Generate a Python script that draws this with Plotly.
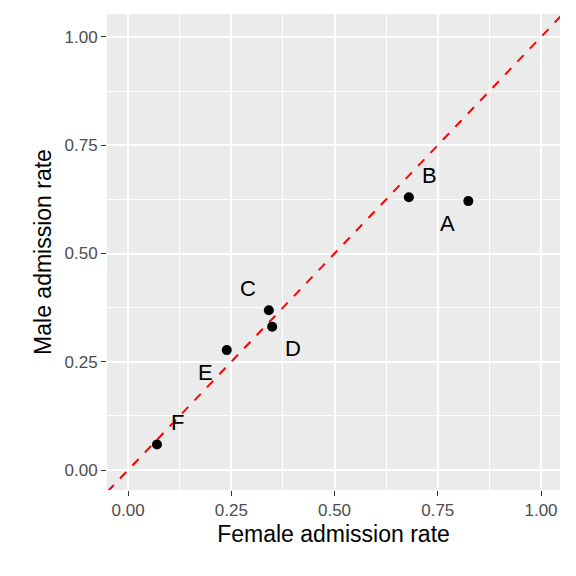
import plotly.graph_objects as go

depts = ["A", "B", "C", "D", "E", "F"]
female = [0.824, 0.680, 0.341, 0.349, 0.239, 0.070]
male = [0.621, 0.630, 0.369, 0.331, 0.277, 0.059]
dx = [-1, 1, -1, 1, -1, 1]
dy = [-1, 1, 1, -1, -1, 1]
ticks = [0, 0.25, 0.5, 0.75, 1.0]
ticklabels = ["0.00", "0.25", "0.50", "0.75", "1.00"]

fig = go.Figure()
fig.add_trace(go.Scatter(x=[-0.2, 1.2], y=[-0.2, 1.2], mode="lines",
                         line=dict(color="red", dash="dash", width=2), hoverinfo="skip"))
fig.add_trace(go.Scatter(x=female, y=male, mode="markers",
                         marker=dict(color="black", size=10)))
for d, xv, yv, sx, sy in zip(depts, female, male, dx, dy):
    fig.add_annotation(x=xv, y=yv, text=d, showarrow=False, xshift=21*sx, yshift=22*sy,
                       font=dict(size=22, color="black"))

axis = dict(tickvals=ticks, ticktext=ticklabels, showgrid=True, gridcolor="white",
            gridwidth=1.5, zeroline=False, ticks="outside", ticklen=5, tickcolor="#333",
            tickfont=dict(size=17, color="#4d4d4d"), minor=dict(showgrid=True, gridcolor="white",
            gridwidth=0.7, tickvals=[0.125, 0.375, 0.625, 0.875]))
fig.update_xaxes(**axis, range=[-0.051, 1.046],
                 title=dict(text="Female admission rate", font=dict(size=23, color="black"), standoff=6))
fig.update_yaxes(**axis, range=[-0.046, 1.053],
                 title=dict(text="Male admission rate", font=dict(size=23, color="black"), standoff=6))
fig.update_layout(width=568, height=568, showlegend=False, plot_bgcolor="#ebebeb",
                  paper_bgcolor="white", font=dict(family="Liberation Sans, Arial"),
                  margin=dict(l=99, r=16, t=6, b=86))
fig.write_html("out.html")
